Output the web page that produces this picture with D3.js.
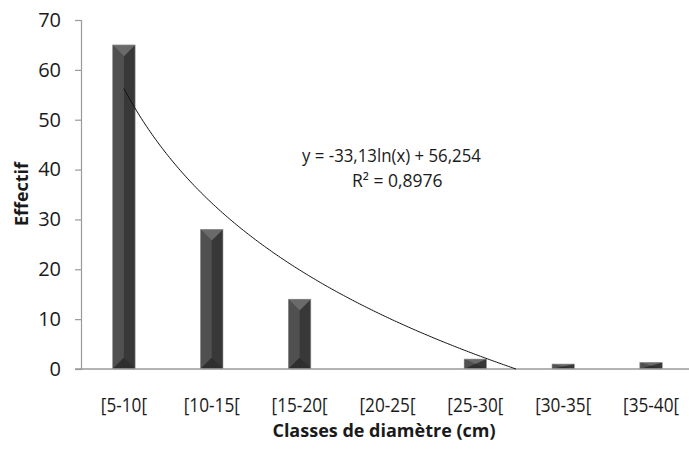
<!DOCTYPE html>
<html>
<head>
<meta charset="utf-8">
<script src="https://cdn.jsdelivr.net/npm/d3@7"></script>
<style>
  body { margin: 0; background: #fff; }
  svg { display: block; }
</style>
</head>
<body>
<script>
// classes de diamètre et effectifs
const classes = ["[5-10[", "[10-15[", "[15-20[", "[20-25[", "[25-30[", "[30-35[", "[35-40["];
const effectifs = [65, 28, 14, 0, 2, 1, 1.3];
const yTicks = [0, 10, 20, 30, 40, 50, 60, 70];
// courbe de tendance logarithmique (Excel)
const trendA = -33.13;
const trendB = 56.254;
const trendLabel = ["y = -33,13ln(x) + 56,254", "R² = 0,8976"];

const width = 689, height = 450;
const margin = {left: 81, right: -6, top: 20, bottom: 81};

const svg = d3.select("body").append("svg")
    .attr("width", width)
    .attr("height", height)
    .style("font-family", "'Open Sans', sans-serif");

const x = d3.scaleBand()
    .domain(classes)
    .range([margin.left - 1, width - margin.right])
    .padding(0);

const y = d3.scaleLinear()
    .domain([0, 70])
    .range([height - margin.bottom, margin.top]);

const barW = x.bandwidth() * 0.255;

// axe Y
const yAxis = svg.append("g")
    .attr("transform", `translate(${margin.left},0)`)
    .call(d3.axisLeft(y).tickValues(yTicks).tickSize(6).tickPadding(14));
yAxis.select(".domain").attr("stroke", "#9a9a9a").attr("stroke-width", 1.2);
yAxis.selectAll(".tick line").attr("stroke", "#9a9a9a").attr("stroke-width", 1.2);
yAxis.selectAll(".tick text")
    .attr("fill", "#1a1a1a")
    .style("font-size", "20px")
    .style("font-family", "'Open Sans', sans-serif");

// barres avec effet biseauté
const bars = svg.append("g")
    .selectAll("g")
    .data(classes.map((c, i) => ({c, v: effectifs[i]})).filter(d => d.v > 0))
    .join("g");

bars.each(function (d) {
    const g = d3.select(this);
    const x0 = x(d.c) + (x.bandwidth() - barW) / 2;
    const x1 = x0 + barW;
    const xm = (x0 + x1) / 2;
    const y0 = y(d.v);
    const y1 = y(0);
    const dd = Math.min(barW / 2, (y1 - y0) / 2);
    g.append("rect")
        .attr("x", x0).attr("y", y0)
        .attr("width", barW).attr("height", y1 - y0)
        .attr("fill", "#383838");
    g.append("path")
        .attr("d", `M${x0},${y0}L${xm},${y0 + dd}L${xm},${y1 - dd}L${x0},${y1}Z`)
        .attr("fill", "#505050");
    g.append("path")
        .attr("d", `M${x0},${y0}L${x1},${y0}L${xm},${y0 + dd}Z`)
        .attr("fill", "#6a6a6a");
    g.append("path")
        .attr("d", `M${x0},${y1}L${x1},${y1}L${xm},${y1 - dd}Z`)
        .attr("fill", "#2f2f2f");
    g.append("rect")
        .attr("x", x0).attr("y", y0)
        .attr("width", barW).attr("height", y1 - y0)
        .attr("fill", "none")
        .attr("stroke", "#9a9a9a")
        .attr("stroke-width", 0.6);
});

// axe X (ligne de base)
svg.append("line")
    .attr("x1", margin.left - 6)
    .attr("x2", width)
    .attr("y1", y(0))
    .attr("y2", y(0))
    .attr("stroke", "#9a9a9a")
    .attr("stroke-width", 1.4);

svg.append("g")
    .selectAll("text")
    .data(classes)
    .join("text")
    .attr("x", d => x(d) + x.bandwidth() / 2)
    .attr("y", 412)
    .attr("text-anchor", "middle")
    .attr("fill", "#1a1a1a")
    .style("font-size", "20px")
    .text(d => d)
    .each(function () {
        // police plus étroite, façon Calibri
        const w = this.getComputedTextLength();
        d3.select(this).attr("textLength", w * 0.86).attr("lengthAdjust", "spacingAndGlyphs");
    });

// courbe de tendance
const xi = d3.scaleLinear()
    .domain([1, classes.length])
    .range([x(classes[0]) + x.bandwidth() / 2, x(classes[classes.length - 1]) + x.bandwidth() / 2]);
const xEnd = Math.exp(-trendB / trendA);
const trendPts = d3.range(1, xEnd, 0.02).concat([xEnd]);
svg.append("path")
    .datum(trendPts)
    .attr("fill", "none")
    .attr("stroke", "#111")
    .attr("stroke-width", 1)
    .attr("d", d3.line()
        .x(d => xi(d))
        .y(d => y(Math.max(0, trendA * Math.log(d) + trendB))));

svg.append("text")
    .attr("x", 302)
    .attr("y", 162)
    .attr("fill", "#1a1a1a")
    .style("font-size", "17.5px")
    .text(trendLabel[0])
    .each(function () {
        const w = this.getComputedTextLength();
        d3.select(this).attr("textLength", w * 0.96).attr("lengthAdjust", "spacingAndGlyphs");
    });
svg.append("text")
    .attr("x", 352)
    .attr("y", 187)
    .attr("fill", "#1a1a1a")
    .style("font-size", "17.5px")
    .text(trendLabel[1]);

// titres des axes
svg.append("text")
    .attr("x", 384)
    .attr("y", 437)
    .attr("text-anchor", "middle")
    .attr("fill", "#1a1a1a")
    .style("font-size", "18px")
    .style("font-weight", "bold")
    .text("Classes de diamètre (cm)");

svg.append("text")
    .attr("transform", "translate(28,194) rotate(-90)")
    .attr("text-anchor", "middle")
    .attr("fill", "#1a1a1a")
    .style("font-size", "18px")
    .style("font-weight", "bold")
    .text("Effectif");
</script>
</body>
</html>
